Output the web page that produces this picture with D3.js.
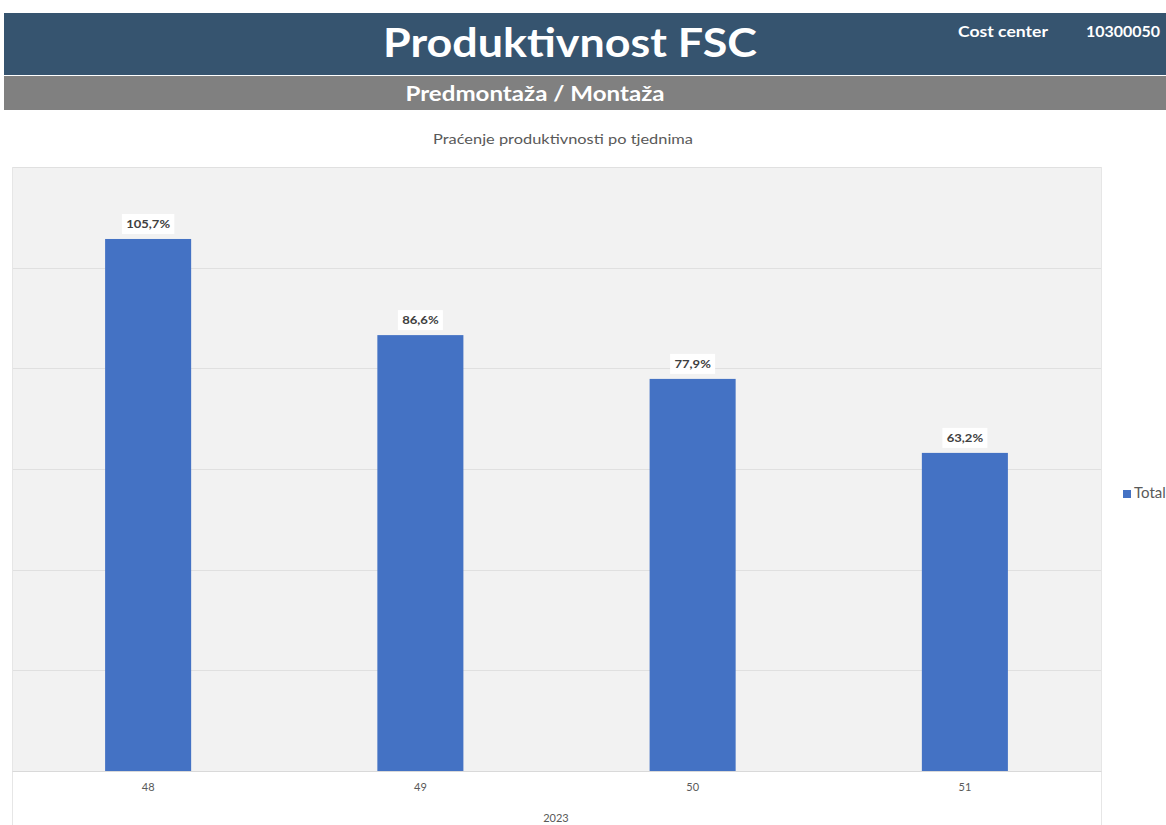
<!DOCTYPE html>
<html><head><meta charset="utf-8">
<script src="https://cdn.jsdelivr.net/npm/d3@7"></script>
<style>
html,body{margin:0;padding:0;background:#fff;overflow:hidden;}
svg{display:block;}
</style></head>
<body>
<svg id="chart" width="1166" height="825"></svg>
<script>
const weeks = ["48", "49", "50", "51"];
const totals = [105.7, 86.6, 77.9, 63.2];
const yTicks = [0, 20, 40, 60, 80, 100, 120];
const yearLabel = "2023";
const seriesName = "Total";
const mainTitle = "Produktivnost FSC";
const subTitle = "Predmontaža / Montaža";
const chartTitle = "Praćenje produktivnosti po tjednima";
const costLabel = "Cost center";
const costValue = "10300050";

const svg = d3.select("#chart");
const font = "Lato, 'Open Sans', sans-serif";

// header bands
svg.append("rect").attr("x", 4).attr("y", 13).attr("width", 1162).attr("height", 62).attr("fill", "#36546f");
svg.append("rect").attr("x", 4).attr("y", 76).attr("width", 1162).attr("height", 34).attr("fill", "#808080");

svg.append("text").attr("x", 570).attr("y", 57).attr("text-anchor", "middle")
  .attr("font-family", font).attr("font-weight", 700).attr("font-size", 40).attr("fill", "#fff")
  .attr("textLength", 374).attr("lengthAdjust", "spacingAndGlyphs").text(mainTitle);
svg.append("text").attr("x", 958).attr("y", 37)
  .attr("font-family", font).attr("font-weight", 700).attr("font-size", 15).attr("fill", "#fff")
  .attr("textLength", 90).attr("lengthAdjust", "spacingAndGlyphs").text(costLabel);
svg.append("text").attr("x", 1086).attr("y", 37)
  .attr("font-family", font).attr("font-weight", 700).attr("font-size", 15).attr("fill", "#fff")
  .attr("textLength", 74).attr("lengthAdjust", "spacingAndGlyphs").text(costValue);
svg.append("text").attr("x", 535).attr("y", 101).attr("text-anchor", "middle")
  .attr("font-family", font).attr("font-weight", 700).attr("font-size", 20).attr("fill", "#fff")
  .attr("textLength", 259).attr("lengthAdjust", "spacingAndGlyphs").text(subTitle);

// chart title
svg.append("text").attr("x", 563).attr("y", 144).attr("text-anchor", "middle")
  .attr("font-family", font).attr("font-size", 14).attr("fill", "#595959")
  .attr("textLength", 260).attr("lengthAdjust", "spacingAndGlyphs").text(chartTitle);

// plot area
const plot = {left: 12, right: 1101, top: 167, bottom: 771};
const x = d3.scaleBand().domain(weeks).range([plot.left, plot.right]).paddingInner(0.684).paddingOuter(0.342);
const y = d3.scaleLinear().domain([0, 120]).range([plot.bottom, plot.top]);

svg.append("rect").attr("x", plot.left).attr("y", plot.top)
  .attr("width", plot.right - plot.left).attr("height", plot.bottom - plot.top).attr("fill", "#f2f2f2");

// gridlines
svg.append("g").selectAll("line").data(yTicks.filter(d => d > 0)).join("line")
  .attr("x1", plot.left).attr("x2", plot.right)
  .attr("y1", d => Math.round(y(d)) + 0.5).attr("y2", d => Math.round(y(d)) + 0.5)
  .attr("stroke", "#e0e0e0").attr("stroke-width", 1);

// outer lines below axis
[plot.left, plot.right].forEach(px => {
  svg.append("line").attr("x1", px + 0.5).attr("x2", px + 0.5).attr("y1", plot.top).attr("y2", 825)
    .attr("stroke", "#e6e6e6");
});

// bars
svg.append("g").selectAll("rect").data(weeks).join("rect")
  .attr("x", d => x(d)).attr("width", x.bandwidth())
  .attr("y", (d, i) => y(totals[i])).attr("height", (d, i) => y(0) - y(totals[i]))
  .attr("fill", "#4472c4");

// axis
const xAxis = svg.append("g").attr("transform", `translate(0,${plot.bottom})`)
  .call(d3.axisBottom(x).tickSize(0).tickPadding(12));
xAxis.select(".domain").attr("stroke", "#d9d9d9");
xAxis.selectAll("text").attr("font-family", font).attr("font-size", 11).attr("fill", "#595959");

svg.append("text").attr("x", 556).attr("y", 822).attr("text-anchor", "middle")
  .attr("font-family", font).attr("font-size", 11).attr("fill", "#595959").text(yearLabel);

// data labels
const fmt = v => d3.format(".1f")(v).replace(".", ",") + "%";
const lbl = svg.append("g").selectAll("g").data(weeks).join("g")
  .attr("transform", (d, i) => `translate(${x(d) + x.bandwidth() / 2},${y(totals[i]) - 15})`);
lbl.append("rect").attr("x", (d, i) => -(fmt(totals[i]).length * 3.7 + 4)).attr("y", -10)
  .attr("width", (d, i) => 2 * (fmt(totals[i]).length * 3.7 + 4)).attr("height", 20).attr("fill", "#fff");
lbl.append("text").attr("text-anchor", "middle").attr("dy", "0.35em")
  .attr("font-family", font).attr("font-weight", 700).attr("font-size", 12).attr("fill", "#404040")
  .attr("textLength", (d, i) => fmt(totals[i]).length * 7.3).attr("lengthAdjust", "spacingAndGlyphs")
  .text((d, i) => fmt(totals[i]));

// legend
svg.append("rect").attr("x", 1123).attr("y", 490).attr("width", 8).attr("height", 8).attr("fill", "#4472c4");
svg.append("text").attr("x", 1134).attr("y", 498)
  .attr("font-family", font).attr("font-size", 15).attr("fill", "#595959").text(seriesName);
</script>
</body></html>
